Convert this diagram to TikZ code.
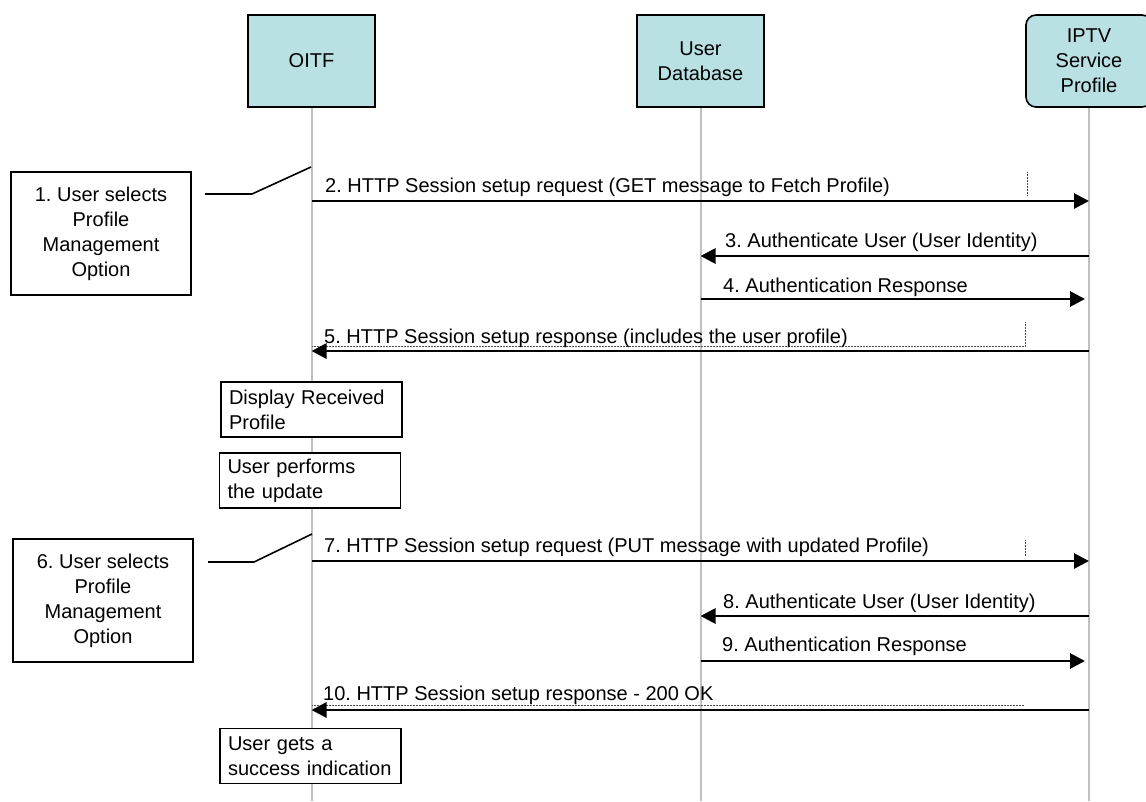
\documentclass[tikz,border=0pt]{standalone}
\usepackage{fontspec}
\setmainfont{Liberation Sans}
\usepackage{tikz}
\usetikzlibrary{arrows.meta}
\definecolor{boxcyan}{RGB}{185,224,227}
\definecolor{lifegray}{RGB}{192,192,192}
\frenchspacing

\begin{document}
\begin{tikzpicture}[
    >=Stealth,
    x=1pt, y=-1pt,
    font=\fontsize{20}{25}\selectfont,
    entity/.style={
        draw=black, line width=1.6pt, fill=boxcyan,
        minimum width=127pt, minimum height=92pt,
        align=center, inner sep=0pt
    },
    lifeline/.style={draw=lifegray, line width=2pt},
    note/.style={
        draw=black, line width=1.6pt, fill=white, align=center,
        minimum width=180pt, minimum height=123pt, inner sep=0pt
    },
    action/.style={
        draw=black, line width=1.6pt, fill=white, align=left,
        text width=165pt, inner xsep=8pt, inner ysep=0pt,
        minimum height=55pt
    },
    msg/.style={-{Triangle[length=15pt,width=15pt]}, line width=2.8pt},
    msgtext/.style={anchor=base west, inner sep=0pt},
    callout/.style={line width=1.6pt},
    labelframe/.style={line width=0.5pt, black!70, densely dotted}
]

    \useasboundingbox (0,0) rectangle (1146,801);

    % Entitats
    \node[entity] (oitf) at (311.5,61) {OITF};
    \node[entity] (udb) at (700.5,61) {User\\Database};
    \node[
        entity,
        rounded corners=10pt,
        minimum width=126pt
    ] (iptv) at (1089,61) {IPTV\\Service\\Profile};

    % Linies de vida
    \foreach \who in {oitf,udb,iptv}
        \draw[lifeline] (\who.south) -- (\who.south |- 0,801);

    % Vores de les etiquetes
    \draw[labelframe] (1027,172) -- (1027,196);
    \draw[labelframe] (312,346) -- (1025,346) -- (1025,322);
    \draw[labelframe] (1025,540) -- (1025,556);
    \draw[labelframe] (312,705) -- (1024,705);

    % Primer intercanvi
    \draw[msg] (oitf |- 0,201) -- (iptv |- 0,201);
    \node[msgtext] (t2) at (325,192)
        {2. HTTP Session setup request (GET message to Fetch Profile)};

    \draw[msg] (iptv |- 0,256) -- (udb |- 0,256);
    \node[msgtext] (t3) at (725,247) {3. Authenticate User (User Identity)};

    \draw[msg, shorten >=4pt] (udb |- 0,299) -- (iptv |- 0,299);
    \node[msgtext] (t4) at (723,292) {4. Authentication Response};

    \draw[msg] (iptv |- 0,351) -- (oitf |- 0,351);
    \node[msgtext] (t5) at (324,343)
        {5. HTTP Session setup response (includes the user profile)};

    % Accions a l'OITF
    \node[action] (show) at (311.5,409.5) {Display Received\\Profile};
    \node[action] (edit) at (310,480.5) {User performs\\the update};

    % Segon intercanvi
    \draw[msg] (oitf |- 0,561) -- (iptv |- 0,561);
    \node[msgtext] (t7) at (324,552)
        {7. HTTP Session setup request (PUT message with updated Profile)};

    \draw[msg] (iptv |- 0,616) -- (udb |- 0,616);
    \node[msgtext] (t8) at (723,608) {8. Authenticate User (User Identity)};

    \draw[msg, shorten >=4pt] (udb |- 0,661) -- (iptv |- 0,661);
    \node[msgtext] (t9) at (722,651) {9. Authentication Response};

    \draw[msg] (iptv |- 0,710) -- (oitf |- 0,710);
    \node[msgtext] (t10) at (323,700) {10. HTTP Session setup response - 200 OK};

    \node[action] (done) at (310.5,756) {User gets a\\success indication};

    % Notes
    \node[note] (n1) at (101,233.5)
        {1. User selects\\Profile\\Management\\Option};
    \node[note] (n6) at (103,600.5)
        {6. User selects\\Profile\\Management\\Option};

    \coordinate (k1) at (205,194);
    \coordinate (b1) at (252,194);
    \coordinate (p1) at (311,167);
    \draw[callout] (k1) -- (b1) -- (p1);

    \coordinate (k6) at (208,562);
    \coordinate (b6) at (254,562);
    \coordinate (p6) at (312,534);
    \draw[callout] (k6) -- (b6) -- (p6);

\end{tikzpicture}
\end{document}
